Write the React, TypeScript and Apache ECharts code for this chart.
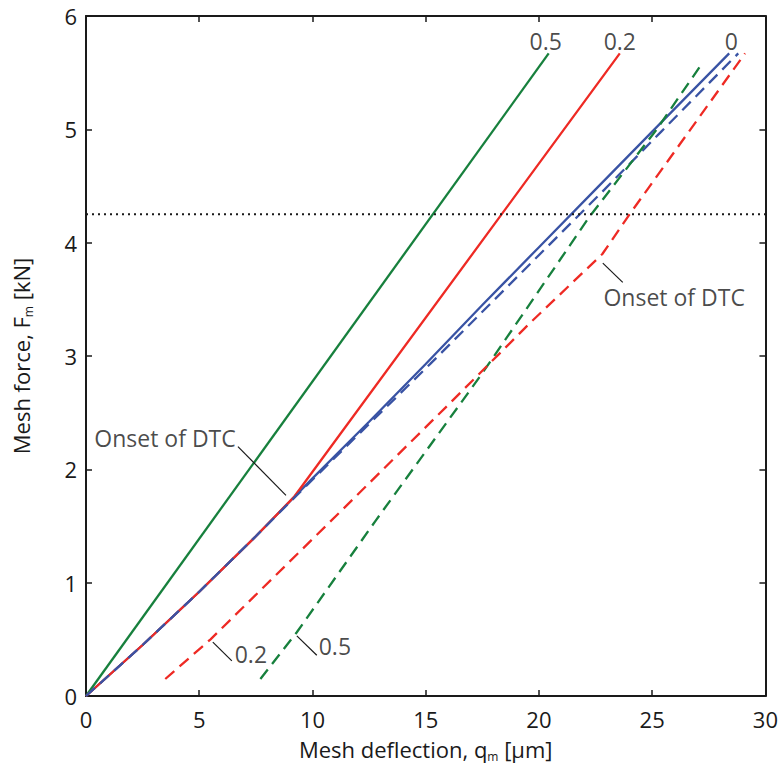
import React, { useEffect, useRef } from "react";
import * as echarts from "echarts";

// Curves: [mesh deflection (µm), mesh force (kN)]
const greenSolid = [[0, 0], [20.43, 5.67]];
const redSolid = [[0, 0], [2.5, 0.45], [5, 0.92], [7.5, 1.41], [9.2, 1.76], [23.57, 5.67]];
const blueSolid = [[0, 0], [2.5, 0.45], [5, 0.92], [7.5, 1.41], [10, 1.92], [12.5, 2.42], [15, 2.93], [17.5, 3.45], [20, 3.96], [22.5, 4.47], [25, 4.98], [28.4, 5.67]];
const blueDashed = [[0, 0], [2.5, 0.45], [5, 0.92], [7.5, 1.41], [9.3, 1.77], [12.6, 2.42], [15.2, 2.93], [17.8, 3.45], [20.35, 3.96], [22.9, 4.47], [25.4, 4.98], [28.8, 5.67]];
const redDashed = [[3.5, 0.15], [5.5, 0.5], [11.2, 1.62], [16, 2.57], [19.6, 3.29], [22.8, 3.9], [24, 4.25], [29.1, 5.67]];
const greenDashed = [[7.7, 0.15], [9.3, 0.56], [12.8, 1.55], [17.4, 2.82], [19.6, 3.46], [22.2, 4.22], [25.2, 5.0], [27.2, 5.58]];
const dottedLevel = [[0, 4.25], [30, 4.25]];

// Annotation leader lines and texts (data coordinates)
const leaderLines = [
  [[6.71, 2.2], [8.83, 1.77]],
  [[22.82, 3.82], [23.7, 3.65]],
  [[5.6, 0.476], [6.44, 0.31]],
  [[9.31, 0.53], [10.19, 0.36]],
];
const annotationTexts: [number, number, string][] = [
  [3.49, 2.275, "Onset of DTC"],
  [25.97, 3.52, "Onset of DTC"],
  [7.28, 0.375, "0.2"],
  [10.99, 0.437, "0.5"],
  [20.3, 5.78, "0.5"],
  [23.57, 5.78, "0.2"],
  [28.5, 5.78, "0"],
];

const xRange = [0, 30, 5];
const yRange = [0, 6, 1];

const FONT = "Open Sans";
const INK = "#1a1a1a";
const GREEN = "#17803d";
const RED = "#ee2a24";
const BLUE = "#3953a4";

export default function App() {
  const ref = useRef<HTMLDivElement>(null);
  useEffect(() => {
    document.body.style.margin = "0";
    const chart = echarts.init(ref.current!, null, { renderer: "svg" });
    const axisLine = { show: true, onZero: false, lineStyle: { color: INK, width: 2 } };
    const axisTick = { show: true, inside: true, length: 6, lineStyle: { color: INK, width: 1.5 } };
    const labelStyle = { fontSize: 22, color: INK, fontFamily: FONT };
    const line = (data: number[][], color: string, dashed: boolean, z = 2) => ({
      type: "line",
      data,
      showSymbol: false,
      symbol: "none",
      silent: true,
      z,
      lineStyle: { color, width: 2.3, type: dashed ? [12, 7] : "solid" },
    });
    const rich = {
      t: { fontSize: 22, fontFamily: FONT, color: INK, lineHeight: 26 },
      s: { fontSize: 12, fontFamily: FONT, color: INK, lineHeight: 12, verticalAlign: "bottom" },
    };
    const series: any[] = [
      line(greenSolid, GREEN, false),
      line(blueSolid, BLUE, false),
      line(redSolid, RED, false),
      line(blueDashed, BLUE, true),
      line(greenDashed, GREEN, true),
      line(redDashed, RED, true),
      {
        type: "line",
        data: dottedLevel,
        symbol: "none",
        silent: true,
        lineStyle: { color: INK, width: 2, type: [2, 4] },
      },
      ...leaderLines.map((d) => ({
        type: "line",
        data: d,
        symbol: "none",
        silent: true,
        lineStyle: { color: INK, width: 1.2 },
      })),
      {
        type: "scatter",
        data: annotationTexts,
        symbolSize: 0,
        silent: true,
        label: {
          show: true,
          position: "inside",
          formatter: (p: any) => p.data[2],
          fontSize: 23,
          fontFamily: FONT,
          color: INK,
        },
      },
    ];
    chart.setOption({
      animation: false,
      backgroundColor: "#fff",
      grid: { left: 86, right: 15, top: 16, bottom: 75 },
      xAxis: [
        {
          type: "value",
          position: "bottom",
          min: xRange[0],
          max: xRange[1],
          interval: xRange[2],
          axisLine,
          axisTick,
          splitLine: { show: false },
          axisLabel: { ...labelStyle, margin: 12 },
          name: "{t|Mesh deflection, q}{s|m}{t| [μm]}",
          nameLocation: "middle",
          nameGap: 40,
          nameTextStyle: { color: INK, fontFamily: FONT, fontSize: 22, rich },
        },
        {
          type: "value",
          position: "top",
          min: xRange[0],
          max: xRange[1],
          interval: xRange[2],
          axisLine,
          axisTick,
          splitLine: { show: false },
          axisLabel: { show: false },
        },
      ],
      yAxis: [
        {
          type: "value",
          position: "left",
          min: yRange[0],
          max: yRange[1],
          interval: yRange[2],
          axisLine,
          axisTick,
          splitLine: { show: false },
          axisLabel: { ...labelStyle, margin: 9 },
          name: "{t|Mesh force, F}{s|m}{t| [kN]}",
          nameLocation: "middle",
          nameGap: 52,
          nameRotate: 90,
          nameTextStyle: { color: INK, fontFamily: FONT, fontSize: 22, rich },
        },
        {
          type: "value",
          position: "right",
          min: yRange[0],
          max: yRange[1],
          interval: yRange[2],
          axisLine,
          axisTick,
          splitLine: { show: false },
          axisLabel: { show: false },
        },
      ],
      series,
    });
    return () => chart.dispose();
  }, []);
  return (
    <div
      ref={ref}
      style={{ position: "fixed", left: 0, top: 0, width: 781, height: 771 }}
    />
  );
}
